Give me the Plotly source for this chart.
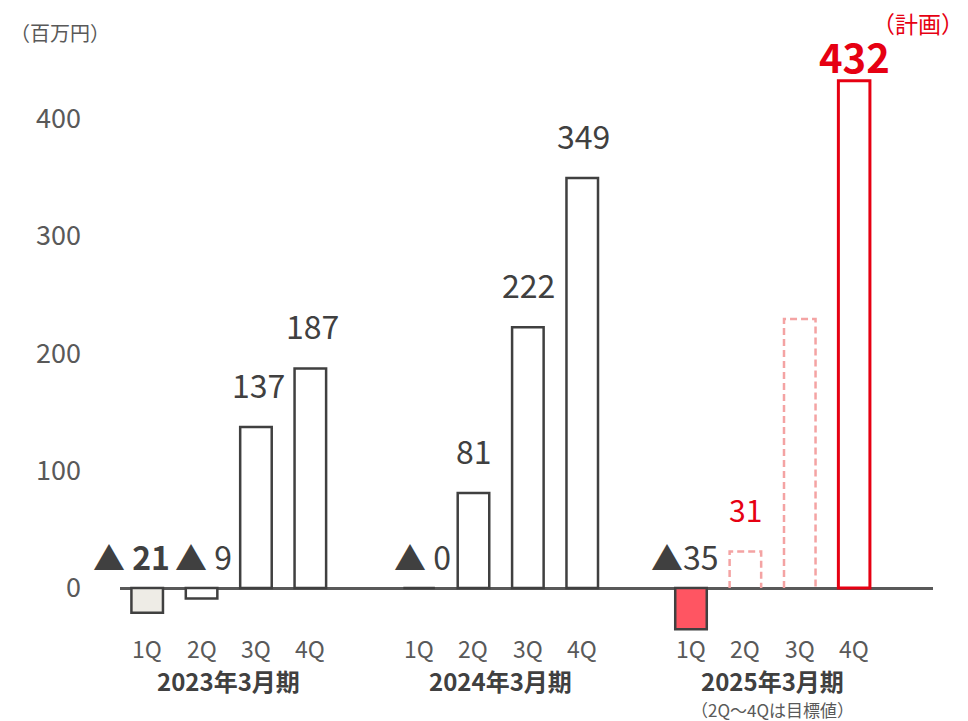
import plotly.graph_objects as go

# ---- data ----
groups = ["2023年3月期", "2024年3月期", "2025年3月期"]
quarters = ["1Q", "2Q", "3Q", "4Q"]
fy2023 = [-21, -9, 137, 187]
fy2024 = [0, 81, 222, 349]
fy2025_actual = [-35]
fy2025_target = [31, 229]
fy2025_plan = [432]
value_labels = ["▲ <b>21</b>", "▲ 9", "137", "187",
                "▲ 0", "81", "222", "349",
                "▲35", "31", None, "<b>432</b>"]

FONT = "Noto Sans CJK JP, Noto Sans, sans-serif"
DARK = "#404040"
GREY = "#595959"
RED = "#E60012"
PINK = "#F4A3A3"

# positions: 4 slots per group plus one empty slot between groups
pos = [g * 5 + q for g in range(3) for q in range(4)]
W = 0.58

fig = go.Figure()

fill23 = ["#EEECE6", "white", "white", "white"]
fig.add_trace(go.Bar(x=pos[0:4], y=fy2023, width=W,
                     marker=dict(color=fill23, line=dict(color=DARK, width=2.5)),
                     showlegend=False, hoverinfo="skip"))
fig.add_trace(go.Bar(x=pos[4:8], y=fy2024, width=W,
                     marker=dict(color="white", line=dict(color=DARK, width=2.5)),
                     showlegend=False, hoverinfo="skip"))
fig.add_trace(go.Bar(x=pos[8:9], y=fy2025_actual, width=W,
                     marker=dict(color="#FF5562", line=dict(color=DARK, width=2.5)),
                     showlegend=False, hoverinfo="skip"))
fig.add_trace(go.Bar(x=pos[11:12], y=fy2025_plan, width=W,
                     marker=dict(color="white", line=dict(color=RED, width=3)),
                     showlegend=False, hoverinfo="skip"))
for xc, v in zip(pos[9:11], fy2025_target):
    fig.add_trace(go.Scatter(x=[xc - W / 2, xc - W / 2, xc + W / 2, xc + W / 2],
                             y=[0, v, v, 0], mode="lines",
                             line=dict(color=PINK, width=2.5, dash="7px,4px"),
                             showlegend=False, hoverinfo="skip"))

# value labels
all_vals = fy2023 + fy2024 + fy2025_actual + fy2025_target + fy2025_plan
label_xshift = [-16, 2, 3, 2, 3, 1, 1, 1, -6, 0, 0, 0]
for i, (xc, v, lab) in enumerate(zip(pos, all_vals, value_labels)):
    if lab is None:
        continue
    color = DARK
    size = 32
    if v <= 0:
        yv, ys = 0, 32
    else:
        yv, ys = v, 43
    if i == 9:
        color, size = RED, 30
    if i == 11:
        color, size, ys = RED, 40, 25
    fig.add_annotation(x=xc, y=yv, text=lab, showarrow=False, yshift=ys,
                       xshift=label_xshift[i], yanchor="middle", xanchor="center",
                       font=dict(family=FONT, size=size, color=color))

# quarter labels
for xc, q in zip(pos, quarters * 3):
    fig.add_annotation(x=xc, y=0, yref="paper", yshift=-13, text=q, showarrow=False,
                       yanchor="middle", font=dict(family=FONT, size=23, color=GREY))

# group labels
for g, name in enumerate(groups):
    fig.add_annotation(x=g * 5 + 1.5, y=0, yref="paper", yshift=-45, text=f"<b>{name}</b>",
                       showarrow=False, yanchor="middle",
                       font=dict(family=FONT, size=24, color=DARK))
fig.add_annotation(x=2 * 5 + 1.5, y=0, yref="paper", yshift=-74, text="（2Q～4Qは目標値）",
                   showarrow=False, yanchor="middle",
                   font=dict(family=FONT, size=17, color=GREY))

pw, ph = 968 - 120 - 35, 721 - 36 - 86
fig.add_annotation(x=(8 - 120) / pw, y=(721 - 86 - 32) / ph, xref="paper", yref="paper",
                   xanchor="left", yanchor="middle", text="（百万円）", showarrow=False,
                   font=dict(family=FONT, size=20, color=GREY))
fig.add_annotation(x=(966 - 120) / pw, y=(721 - 86 - 23) / ph, xref="paper", yref="paper",
                   xanchor="right", yanchor="middle", text="（計画）", showarrow=False,
                   font=dict(family=FONT, size=23, color=RED))

fig.update_layout(
    width=968, height=721,
    margin=dict(l=120, r=35, t=36, b=86),
    plot_bgcolor="white", paper_bgcolor="white",
    barmode="overlay",
    xaxis=dict(range=[-0.5, 14.45], showticklabels=False,
               showgrid=False, zeroline=False, showline=False, ticks=""),
    yaxis=dict(range=[-40, 470], tickvals=[0, 100, 200, 300, 400],
               showgrid=False, zeroline=True, zerolinecolor=GREY, zerolinewidth=2.5,
               showline=False, ticks="", ticklabelstandoff=38,
               tickfont=dict(family=FONT, size=27, color=GREY)),
)

fig.write_html("out.html")
